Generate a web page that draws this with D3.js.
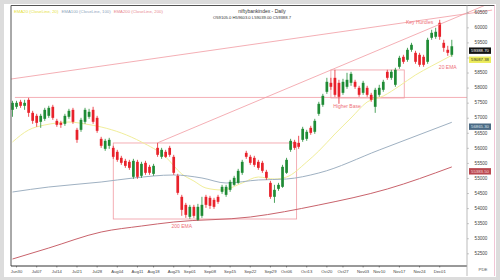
<!DOCTYPE html>
<html>
<head>
<meta charset="utf-8">
<script src="https://cdn.jsdelivr.net/npm/d3@7"></script>
<style>
  body { margin: 0; background: #fff; }
  svg { display: block; font-family: "Liberation Sans", Arial, sans-serif; }
</style>
</head>
<body>
<div class="vis"></div>
<script>
// trading days, Jun 27 .. Dec 04 (2025)
const dates = ("06-27 06-30 07-01 07-02 07-03 07-04 07-07 07-08 07-09 07-10 07-11 07-14 07-15 07-16 07-17 07-18 " +
  "07-21 07-22 07-23 07-24 07-25 07-28 07-29 07-30 07-31 08-01 08-04 08-05 08-06 08-07 08-08 08-11 08-12 08-13 08-14 " +
  "08-18 08-19 08-20 08-21 08-22 08-25 08-26 08-28 08-29 09-01 09-02 09-03 09-04 09-05 09-08 09-09 09-10 09-11 09-12 " +
  "09-15 09-16 09-17 09-18 09-19 09-22 09-23 09-24 09-25 09-26 09-29 09-30 10-01 10-03 10-06 10-07 10-08 10-09 10-10 " +
  "10-13 10-14 10-15 10-16 10-17 10-20 10-21 10-23 10-24 10-27 10-28 10-29 10-30 10-31 11-03 11-04 11-06 11-07 11-10 " +
  "11-11 11-12 11-13 11-14 11-17 11-18 11-19 11-20 11-21 11-24 11-25 11-26 11-27 11-28 12-01 12-02 12-03 12-04").split(" ");

const open = [57279,57379,57545,57412,57611,57179,57080,56881,56980,57080,
  57379,56914,56847,56814,57047,57279,56615,56615,56881,57047,
  57279,57013,56316,55984,56084,56017,55885,55685,55586,55553,
  55055,55553,55088,55520,55387,55154,56017,55719,55885,56017,
  55719,55088,54391,54125,53727,54059,53627,53760,54391,54358,
  54291,54391,54557,54457,54623,54789,54855,55188,55851,55719,
  55685,55553,55520,55221,54855,54391,54656,54723,55188,55951,
  56217,56183,56283,56316,56681,56549,57146,57445,57877,58175,
  58341,58175,57843,58043,58175,58209,58009,57843,58009,57777,
  57379,57777,57943,58541,58341,58109,58707,59039,58939,59271,
  59171,59105,59039,58873,59670,59703,60167,59503,59271,59105];
const high = [57578,57578,57611,57611,57677,57246,57146,57146,57345,57412,
  57445,56980,56914,57146,57312,57345,56681,57013,57345,57312,
  57379,57080,56383,56316,56349,56084,55951,55752,55652,55619,
  55652,55619,55553,55586,55453,55486,56183,56017,55951,56084,
  55785,55154,54457,54191,54125,54125,54158,54391,54457,54424,
  54358,54457,54789,54789,54955,55088,55320,55619,55918,55785,
  55752,55619,55586,55287,54922,54789,54855,55453,55685,56316,
  56283,56416,56715,56615,56748,56980,57545,57810,58341,58341,
  58607,58275,58308,58507,58541,58275,58076,58242,58076,57843,
  58009,58109,58275,58607,58607,58673,59072,59105,59337,59503,
  59238,59171,59105,59670,59935,60001,60267,59603,59404,59603];
const low = [57047,57312,57345,57279,57047,56814,56715,56681,56914,57013,
  56947,56715,56681,56748,56980,56814,56183,56549,56814,56980,
  56814,56515,56017,55918,55984,55652,55553,55453,55353,55287,
  54988,54988,55022,55121,55121,55088,55719,55652,55685,55719,
  55121,54457,53760,53693,53660,53693,53594,53693,54025,53992,
  53992,54158,54490,54391,54557,54756,54822,55121,55652,55453,
  55387,55287,55188,54955,54325,54191,54590,54690,55154,55885,
  55951,55984,56217,56250,56449,56482,57080,57379,57810,57943,
  57711,57478,57777,57976,58076,57976,57711,57777,57711,57545,
  57179,57711,57877,58275,58275,58043,58640,58806,58873,59205,
  58806,58707,58707,58806,59603,59636,59603,59205,59072,59039];
const close = [57511,57511,57412,57511,57179,56914,56847,57080,57279,57345,
  57013,56781,56781,57080,57246,56881,56283,56947,57279,57213,
  56881,56582,56084,56250,56283,55719,55619,55520,55420,55353,
  55586,55055,55486,55188,55188,55420,55785,55951,55719,55785,
  55188,54524,53959,53793,54059,53760,54059,54125,54125,54092,
  54059,54225,54723,54723,54889,55022,55254,55553,55719,55520,
  55453,55353,55254,55022,54391,54623,54789,55387,55619,56250,
  56017,56051,56648,56549,56515,56914,57478,57744,58209,58043,
  57777,57711,58209,58275,58474,58043,57777,58175,57777,57611,
  57943,58009,58209,58341,58541,58607,59005,58873,59271,59437,
  58873,58773,58773,59603,59835,59869,59703,59337,59171,59388.70];

// moving averages, read at sample dates
const ema20Dates = ["06-27","07-03","07-09","07-14","07-17","07-23","07-29","08-05","08-12","08-21","08-28","09-02","09-05","09-11",
  "09-18","09-24","09-30","10-06","10-13","10-16","10-23","10-29","11-04","11-11","11-17","11-21","11-27","12-04"];
const ema20 = [56211,56610,56776,56842,56875,56809,56709,56510,56211,55713,55149,54916,54684,54618,
  54850,55049,54983,55049,55547,55912,56477,57008,57539,57738,58070,58436,58734,59087.38];
const ema100Dates = ["06-27","07-10","07-29","08-08","08-25","09-04","09-12","09-24","10-06","10-16","11-10","12-04"];
const ema100 = [54551,54717,54883,55016,55116,55016,54850,54950,54983,55182,55946,56865.30];
const ema200Dates = ["06-27","07-10","07-29","08-12","08-25","09-22","10-16","11-12","12-04"];
const ema200 = [52327,52692,53223,53422,53555,53721,54120,54651,55383.50];

const yTicks = [52500,53000,53500,54000,54500,55000,55500,56000,56500,57000,57500,58000,58500,59000,59500,60000,60500];
const xTickDates = ["06-30","07-07","07-14","07-21","07-28","08-04","08-11","08-18","08-25","09-01","09-08","09-15",
  "09-22","09-29","10-06","10-13","10-20","10-27","11-03","11-10","11-17","11-24","12-01"];
const xTickNames = ["Jun30","Jul07","Jul14","Jul21","Jul28","Aug04","Aug11","Aug18","Aug25","Sep01","Sep08","Sep15",
  "Sep22","Sep29","Oct06","Oct13","Oct20","Oct27","Nov03","Nov10","Nov17","Nov24","Dec01"];

// drawings: trend lines as [index, price] pairs, boxes in index / price space
const trendLines = [
  [[36, 56183], [119, 60848]],
  [[-0.4, 58300], [119, 60589]]
];
const supportLevel = 57690;
const boxes = [
  { from: 25, to: 70.5, top: 56178, bottom: 53655 },
  { from: 79, to: 97.2, top: 58602, bottom: 57672 }
];
const notes = [
  { text: "Key Hurdles", at: "11-24", v: 60160 },
  { text: "20 EMA", at: "12-03", v: 58670 },
  { text: "Higher Base", at: "10-28", v: 57370 },
  { text: "200 EMA", at: "08-28", v: 53390 }
];

const W = 500, H = 280;
const plot = { left: 11, top: 5.5, right: 467, bottom: 266 };
const pink = "#f19aa2";
const up = "#1f8b35", down = "#e8222b";

const svg = d3.select(".vis").append("svg").attr("width", W).attr("height", H);
svg.append("rect").attr("width", W).attr("height", H).attr("fill", "#dcdcdc");
svg.append("rect").attr("x", 4).attr("y", 4).attr("width", 492).attr("height", 273).attr("fill", "#fff");

const x = d3.scaleLinear().domain([0, dates.length - 1]).range([12.5, 451.8]);
const y = d3.scaleLinear().domain([52095, 60725]).range([266, 6]);
const xi = (d) => x(dates.indexOf(d));

svg.append("clipPath").attr("id", "plotclip").append("rect")
  .attr("x", plot.left).attr("y", plot.top).attr("width", plot.right - plot.left).attr("height", plot.bottom - plot.top);
svg.append("clipPath").attr("id", "wideclip").append("rect")
  .attr("x", plot.left).attr("y", plot.top).attr("width", 494 - plot.left).attr("height", plot.bottom - plot.top);

const g = svg.append("g").attr("clip-path", "url(#plotclip)");

// support line + boxes
g.append("line")
  .attr("x1", x(0.6)).attr("x2", plot.right)
  .attr("y1", y(supportLevel)).attr("y2", y(supportLevel))
  .attr("stroke", pink).attr("stroke-width", 0.8);

g.selectAll("rect.box").data(boxes).join("rect")
  .attr("class", "box")
  .attr("x", (d) => x(d.from)).attr("y", (d) => y(d.top))
  .attr("width", (d) => x(d.to) - x(d.from)).attr("height", (d) => y(d.bottom) - y(d.top))
  .attr("fill", "none").attr("stroke", pink).attr("stroke-width", 0.8);

// moving averages
const line = d3.line().x((d) => xi(d[0])).y((d) => y(d[1])).curve(d3.curveMonotoneX);
const emas = [
  { dates: ema20Dates, vals: ema20, color: "#f1ee9a" },
  { dates: ema100Dates, vals: ema100, color: "#9fb1c2" },
  { dates: ema200Dates, vals: ema200, color: "#c9636c" }
];
emas.forEach((e) => {
  g.append("path")
    .datum(e.dates.map((d, i) => [d, e.vals[i]]))
    .attr("d", line).attr("fill", "none")
    .attr("stroke", e.color).attr("stroke-width", 1);
});

// candles
const candles = dates.map((d, i) => ({ i, o: open[i], h: high[i], l: low[i], c: close[i] }));
const col = (d) => (d.c >= d.o ? up : down);
g.selectAll("line.wick").data(candles).join("line")
  .attr("class", "wick")
  .attr("x1", (d) => x(d.i)).attr("x2", (d) => x(d.i))
  .attr("y1", (d) => y(d.h)).attr("y2", (d) => y(d.l))
  .attr("stroke", col).attr("stroke-width", 0.8);
g.selectAll("rect.body").data(candles).join("rect")
  .attr("class", "body")
  .attr("x", (d) => x(d.i) - 1.35).attr("width", 2.7)
  .attr("y", (d) => y(Math.max(d.o, d.c)))
  .attr("height", (d) => Math.max(0.8, Math.abs(y(d.o) - y(d.c))))
  .attr("fill", col);

// trend lines run on into the price panel
svg.append("g").attr("clip-path", "url(#wideclip)")
  .selectAll("line").data(trendLines).join("line")
  .attr("x1", (d) => x(d[0][0])).attr("y1", (d) => y(d[0][1]))
  .attr("x2", (d) => x(d[1][0])).attr("y2", (d) => y(d[1][1]))
  .attr("stroke", pink).attr("stroke-width", 0.8);

// notes
svg.selectAll("text.note").data(notes).join("text")
  .attr("class", "note")
  .attr("x", (d) => xi(d.at)).attr("y", (d) => y(d.v))
  .attr("text-anchor", "middle").attr("dominant-baseline", "middle")
  .attr("font-size", 5).attr("fill", "#ee6f78")
  .text((d) => d.text);

// frame lines
const frame = svg.append("g").attr("fill", "none");
frame.append("line").attr("x1", plot.left).attr("x2", 494.5).attr("y1", plot.top).attr("y2", plot.top).attr("stroke", "#555").attr("stroke-width", 1);
frame.append("line").attr("x1", plot.left).attr("x2", plot.left).attr("y1", plot.top).attr("y2", plot.bottom).attr("stroke", "#555").attr("stroke-width", 1);
frame.append("line").attr("x1", plot.left).attr("x2", plot.right).attr("y1", plot.bottom).attr("y2", plot.bottom).attr("stroke", "#333").attr("stroke-width", 1);
frame.append("line").attr("x1", plot.right).attr("x2", plot.right).attr("y1", plot.top).attr("y2", 276).attr("stroke", "#a9a9a9").attr("stroke-width", 0.8);
frame.append("line").attr("x1", 494.5).attr("x2", 494.5).attr("y1", plot.top).attr("y2", 276).attr("stroke", "#efb6cc").attr("stroke-width", 0.8);

// last value tags
const tags = [
  { v: close[close.length - 1], fill: "#111", text: "#fff" },
  { v: ema20[ema20.length - 1], fill: "#ecec5a", text: "#333" },
  { v: ema100[ema100.length - 1], fill: "#4b6a84", text: "#dde6ee" },
  { v: ema200[ema200.length - 1], fill: "#b9474f", text: "#f6dada" }
];
const tagTop = (d) => y(d.v) + 1.2;
const tagH = 6.4;

// price axis: a label hidden by a tag is left out, as in the source
const shown = yTicks.filter((t) => !tags.some((d) => Math.abs(y(t) - (tagTop(d) + tagH / 2)) < 5.5));
const ya = svg.append("g");
ya.selectAll("line").data(yTicks).join("line")
  .attr("x1", plot.right).attr("x2", plot.right + 2)
  .attr("y1", (d) => y(d)).attr("y2", (d) => y(d))
  .attr("stroke", "#999").attr("stroke-width", 0.5);
ya.selectAll("text").data(shown).join("text")
  .attr("x", 481).attr("y", (d) => y(d))
  .attr("text-anchor", "middle").attr("dominant-baseline", "middle")
  .attr("font-size", 4.6).attr("fill", "#444")
  .text((d) => d);
svg.append("text").attr("x", 483).attr("y", 269.5)
  .attr("text-anchor", "middle").attr("dominant-baseline", "middle")
  .attr("font-size", 4.4).attr("fill", "#555").text("PDE");

const tg = svg.selectAll("g.tag").data(tags).join("g").attr("class", "tag");
tg.append("rect").attr("x", 469).attr("y", tagTop).attr("width", 22).attr("height", tagH)
  .attr("fill", (d) => d.fill);
tg.append("text").attr("x", 480).attr("y", (d) => tagTop(d) + tagH / 2 + 0.2)
  .attr("text-anchor", "middle").attr("dominant-baseline", "middle")
  .attr("font-size", 4.3).attr("fill", (d) => d.text)
  .text((d) => d.v.toFixed(2));

// date axis
const xa = svg.append("g");
xa.selectAll("line").data(xTickDates).join("line")
  .attr("x1", (d) => xi(d)).attr("x2", (d) => xi(d))
  .attr("y1", plot.bottom).attr("y2", plot.bottom + 1.5)
  .attr("stroke", "#333").attr("stroke-width", 0.5);
xa.selectAll("text").data(xTickDates).join("text")
  .attr("x", (d) => xi(d)).attr("y", 272)
  .attr("text-anchor", "middle").attr("dominant-baseline", "middle")
  .attr("font-size", 4.2).attr("fill", "#444")
  .text((d, i) => xTickNames[i]);

// header: legend + title
const legend = [
  { t: "EMA20 (CloseLine, 20)", c: "#e6df3a" },
  { t: "EMA100 (CloseLine, 100)", c: "#8ea4ba" },
  { t: "EMA200 (CloseLine, 200)", c: "#e98a92" }
];
let lx = 14;
legend.forEach((l) => {
  const t = svg.append("text").attr("x", lx).attr("y", 11.5)
    .attr("dominant-baseline", "middle").attr("font-size", 4.3).attr("fill", l.c).text(l.t);
  lx += t.node().getComputedTextLength() + 3;
});
const last = candles[candles.length - 1];
svg.append("text").attr("x", 262).attr("y", 11.5)
  .attr("text-anchor", "middle").attr("dominant-baseline", "middle")
  .attr("font-size", 5).attr("fill", "#333").text("niftybankindex - Daily");
svg.append("text").attr("x", 252).attr("y", 17.5)
  .attr("text-anchor", "middle").attr("dominant-baseline", "middle")
  .attr("font-size", 4.2).attr("fill", "#333")
  .text(`O${last.o.toFixed(1)} H${last.h.toFixed(1)} L${last.l.toFixed(2)} C${last.c.toFixed(1)}`);
</script>
</body>
</html>
